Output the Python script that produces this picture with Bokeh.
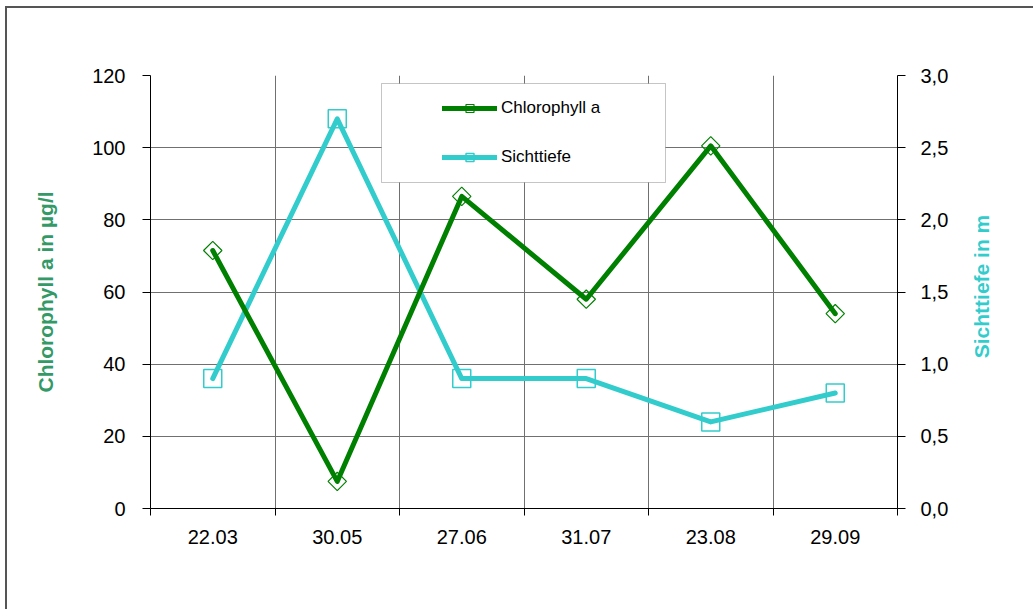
from bokeh.plotting import figure
from bokeh.models import (Range1d, LinearAxis, FixedTicker, Legend, LegendItem,
                          BoxAnnotation, Grid, Label)
from bokeh.embed import file_html
from bokeh.resources import INLINE
import numpy as np

# Sampling dates and measurements
dates = ["22.03", "30.05", "27.06", "31.07", "23.08", "29.09"]
chlorophyll = [71.5, 7.5, 86.5, 58.0, 100.5, 54.0]   # µg/l
sichttiefe = [0.9, 2.7, 0.9, 0.9, 0.6, 0.8]          # m

chl_ticks = [0, 20, 40, 60, 80, 100, 120]
sicht_ticks = [0.0, 0.5, 1.0, 1.5, 2.0, 2.5, 3.0]

GREEN = "#008000"
CYAN = "#33CCCC"
FONT = "Liberation Sans"
TICK_SIZE = "20px"

# layout in pixels
W, H = 1028, 603
FL, FT, FW, FH = 143, 67, 747, 433

x = np.arange(len(dates)) + 0.5

p = figure(width=W, height=H, output_backend="svg", toolbar_location=None,
           x_range=Range1d(0, len(dates)), y_range=Range1d(0, 120),
           min_border_left=FL, min_border_right=W - FL - FW,
           min_border_top=FT, min_border_bottom=H - FT - FH,
           x_axis_type=None, y_axis_type=None)
p.outline_line_color = None
p.background_fill_color = "white"
p.border_fill_color = "white"
p.styles = {"margin-left": "5px", "margin-top": "6px",
            "border-left": "2px solid #555555", "border-top": "2px solid #555555"}

p.extra_y_ranges = {"sicht": Range1d(0, 3)}


def style_axis(ax, standoff):
    ax.axis_line_color = "black"
    ax.axis_line_width = 1
    ax.major_tick_line_color = "black"
    ax.major_label_text_color = "black"
    ax.major_label_text_font = FONT
    ax.major_label_text_font_size = TICK_SIZE
    ax.major_label_standoff = standoff


# bottom axis: labels at category centres, tick marks at the boundaries
xax = LinearAxis(ticker=FixedTicker(ticks=list(x), minor_ticks=list(range(len(dates) + 1))))
xax.major_label_overrides = {float(v): d for v, d in zip(x, dates)}
style_axis(xax, 14)
xax.major_tick_out = 0
xax.major_tick_in = 0
xax.minor_tick_out = 7
xax.minor_tick_in = 0
xax.minor_tick_line_color = "black"
p.add_layout(xax, "below")

# left axis: chlorophyll
yl = LinearAxis(ticker=FixedTicker(ticks=chl_ticks))
style_axis(yl, 17)
yl.axis_label = "Chlorophyll a in µg/l"
yl.axis_label_text_color = "#339966"
yl.axis_label_text_font = FONT
yl.axis_label_text_font_style = "bold"
yl.axis_label_text_font_size = "21px"
yl.axis_label_standoff = 32
yl.major_tick_out = 8
yl.major_tick_in = 0
yl.minor_tick_out = 0
yl.minor_tick_in = 0
p.add_layout(yl, "left")

# right axis: Secchi depth
yr = LinearAxis(y_range_name="sicht", ticker=FixedTicker(ticks=sicht_ticks))
yr.major_label_overrides = {float(t): f"{t:.1f}".replace(".", ",") for t in sicht_ticks}
style_axis(yr, 15)
yr.major_tick_out = 8
yr.major_tick_in = 0
yr.minor_tick_out = 0
yr.minor_tick_in = 0
p.add_layout(yr, "right")

# right-hand title, reading bottom to top (canvas pixel position)
p.add_layout(Label(x=972, y=276, x_units="canvas", y_units="canvas",
                   text="Sichttiefe in m", angle=np.pi / 2,
                   text_align="center", text_baseline="middle",
                   text_color=CYAN, text_font=FONT, text_font_style="bold",
                   text_font_size="21px"), "right")

# grid: vertical lines between the dates, horizontal lines at the left ticks
xgrid = Grid(dimension=0, ticker=FixedTicker(ticks=list(range(1, len(dates)))),
             grid_line_color="#707070", grid_line_width=1)
ygrid = Grid(dimension=1, ticker=FixedTicker(ticks=chl_ticks[1:]),
             grid_line_color="#707070", grid_line_width=1)
p.add_layout(xgrid, "center")
p.add_layout(ygrid, "center")

# series
s_line = p.line(x, sichttiefe, y_range_name="sicht", color=CYAN, line_width=5,
                line_cap="round", line_join="round")
s_mark = p.scatter(x, sichttiefe, y_range_name="sicht", marker="square", size=18,
                   fill_color=None, line_color=CYAN, line_width=1.5)
c_line = p.line(x, chlorophyll, color=GREEN, line_width=5,
                line_cap="round", line_join="round")
c_mark = p.scatter(x, chlorophyll, marker="square", angle=np.pi / 4, size=13,
                   fill_color=None, line_color=GREEN, line_width=1.2)

# legend frame (pixel box converted to data units)
bx0, bx1, by0, by1 = 381, 665, 83, 182
sx = len(dates) / FW
sy = 120 / FH
box = BoxAnnotation(left=(bx0 - 150) * sx, right=(bx1 - 150) * sx,
                    top=(508 - by0) * sy, bottom=(508 - by1) * sy,
                    fill_color="white", fill_alpha=1.0,
                    line_color="#404040", line_width=1)
p.add_layout(box)

legend = Legend(items=[LegendItem(label="Chlorophyll a", renderers=[c_line, c_mark]),
                       LegendItem(label="Sichttiefe", renderers=[s_line, s_mark])],
                location=(292, 341), padding=0, spacing=29,
                glyph_width=55, glyph_height=20, label_height=20,
                label_standoff=4, label_text_font=FONT, label_text_font_size="17px",
                label_text_color="black",
                border_line_color=None, background_fill_alpha=0)
p.add_layout(legend, "center")

open("out.html", "w").write(file_html(p, INLINE))
